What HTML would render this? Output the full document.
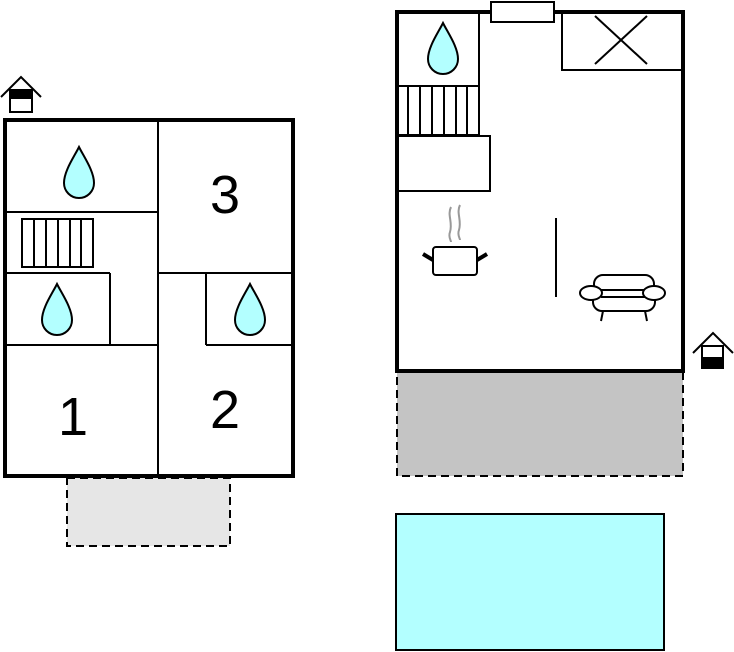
<!DOCTYPE html>
<html><head><style>html,body{margin:0;padding:0;background:#fff}svg{display:block}</style></head>
<body>
<svg width="734" height="652" viewBox="0 0 734 652" xmlns="http://www.w3.org/2000/svg">
<defs>
<path id="drop" d="M0,0 C-5,10 -15,24 -15,36 A15,15 0 0 0 15,36 C15,24 5,10 0,0Z" fill="#b3ffff" stroke="#000" stroke-width="2"/>
</defs>
<rect x="67" y="478" width="163" height="68" fill="#e6e6e6" stroke="#000" stroke-width="2" stroke-dasharray="8,5"/>
<rect x="5" y="120" width="288" height="356" fill="#fff" stroke="#000" stroke-width="4"/>
<g stroke="#000" stroke-width="2" fill="none">
<line x1="158" y1="120" x2="158" y2="476"/>
<line x1="5" y1="212" x2="158" y2="212"/>
<line x1="5" y1="273" x2="110" y2="273"/>
<line x1="110" y1="273" x2="110" y2="345"/>
<line x1="5" y1="345" x2="158" y2="345"/>
<line x1="158" y1="273" x2="293" y2="273"/>
<line x1="206" y1="273" x2="206" y2="345"/>
<line x1="206" y1="345" x2="293" y2="345"/>
<rect x="22" y="219" width="71" height="48"/>
<line x1="34" y1="219" x2="34" y2="267"/><line x1="46" y1="219" x2="46" y2="267"/><line x1="58" y1="219" x2="58" y2="267"/><line x1="70" y1="219" x2="70" y2="267"/><line x1="81" y1="219" x2="81" y2="267"/>
</g>
<use href="#drop" x="79" y="147"/>
<use href="#drop" x="57" y="284"/>
<use href="#drop" x="250" y="284"/>
<g font-family="Liberation Sans, sans-serif" font-size="54" text-anchor="middle" fill="#000">
<text x="225" y="213">3</text>
<text x="73" y="435">1</text>
<text x="225" y="428">2</text>
</g>
<g stroke="#000" stroke-width="2" fill="none">
<polyline points="1,97 21,77 41,97"/>
<rect x="10" y="90" width="22" height="22" fill="#fff"/>
</g>
<rect x="10" y="90" width="22" height="9" fill="#000"/>

<rect x="397" y="372" width="286" height="104" fill="#c4c4c4" stroke="#000" stroke-width="2" stroke-dasharray="8,5"/>
<rect x="396" y="514" width="268" height="136" fill="#b3ffff" stroke="#000" stroke-width="2"/>
<rect x="397" y="12" width="286" height="359" fill="#fff" stroke="#000" stroke-width="4"/>
<g stroke="#000" stroke-width="2" fill="none">
<rect x="491" y="2" width="63" height="20" fill="#fff"/>
<rect x="397" y="13" width="82" height="73"/>
<rect x="397" y="86" width="82" height="49"/>
<line x1="408" y1="86" x2="408" y2="135"/><line x1="420" y1="86" x2="420" y2="135"/><line x1="432" y1="86" x2="432" y2="135"/><line x1="444" y1="86" x2="444" y2="135"/><line x1="456" y1="86" x2="456" y2="135"/><line x1="467" y1="86" x2="467" y2="135"/>
<rect x="397" y="136" width="93" height="55"/>
<rect x="562" y="13" width="121" height="57"/>
<line x1="595" y1="16" x2="647" y2="64"/><line x1="647" y1="16" x2="595" y2="64"/>
<line x1="556" y1="218" x2="556" y2="297"/>
<rect x="433" y="247" width="44" height="28" rx="3"/>
<line x1="423" y1="254" x2="433" y2="260" stroke-width="4"/>
<line x1="487" y1="254" x2="477" y2="260" stroke-width="4"/>
<!-- sofa -->
<rect x="594" y="275" width="60" height="24" rx="9" fill="#fff"/>
<rect x="593" y="290" width="62" height="21" rx="9" fill="#fff"/>
<line x1="601" y1="297" x2="645" y2="297"/>
<ellipse cx="591" cy="293" rx="11" ry="7" fill="#fff"/>
<ellipse cx="654" cy="293" rx="11" ry="7" fill="#fff"/>
<line x1="603" y1="311" x2="601" y2="321"/><line x1="645" y1="311" x2="647" y2="321"/>
</g>
<g stroke="#999" stroke-width="2" fill="none">
<path d="M451,207 C447,215 453,222 450,232 C448,237 451,240 451,242"/>
<path d="M460,205 C456,213 462,220 459,230 C457,235 460,238 460,240"/>
</g>
<use href="#drop" x="443" y="23"/>
<g stroke="#000" stroke-width="2" fill="none">
<polyline points="693,353 713,333 733,353"/>
<rect x="702" y="346" width="21" height="22" fill="#fff"/>
</g>
<rect x="702" y="357" width="21" height="11" fill="#000"/>
</svg>
</body></html>
